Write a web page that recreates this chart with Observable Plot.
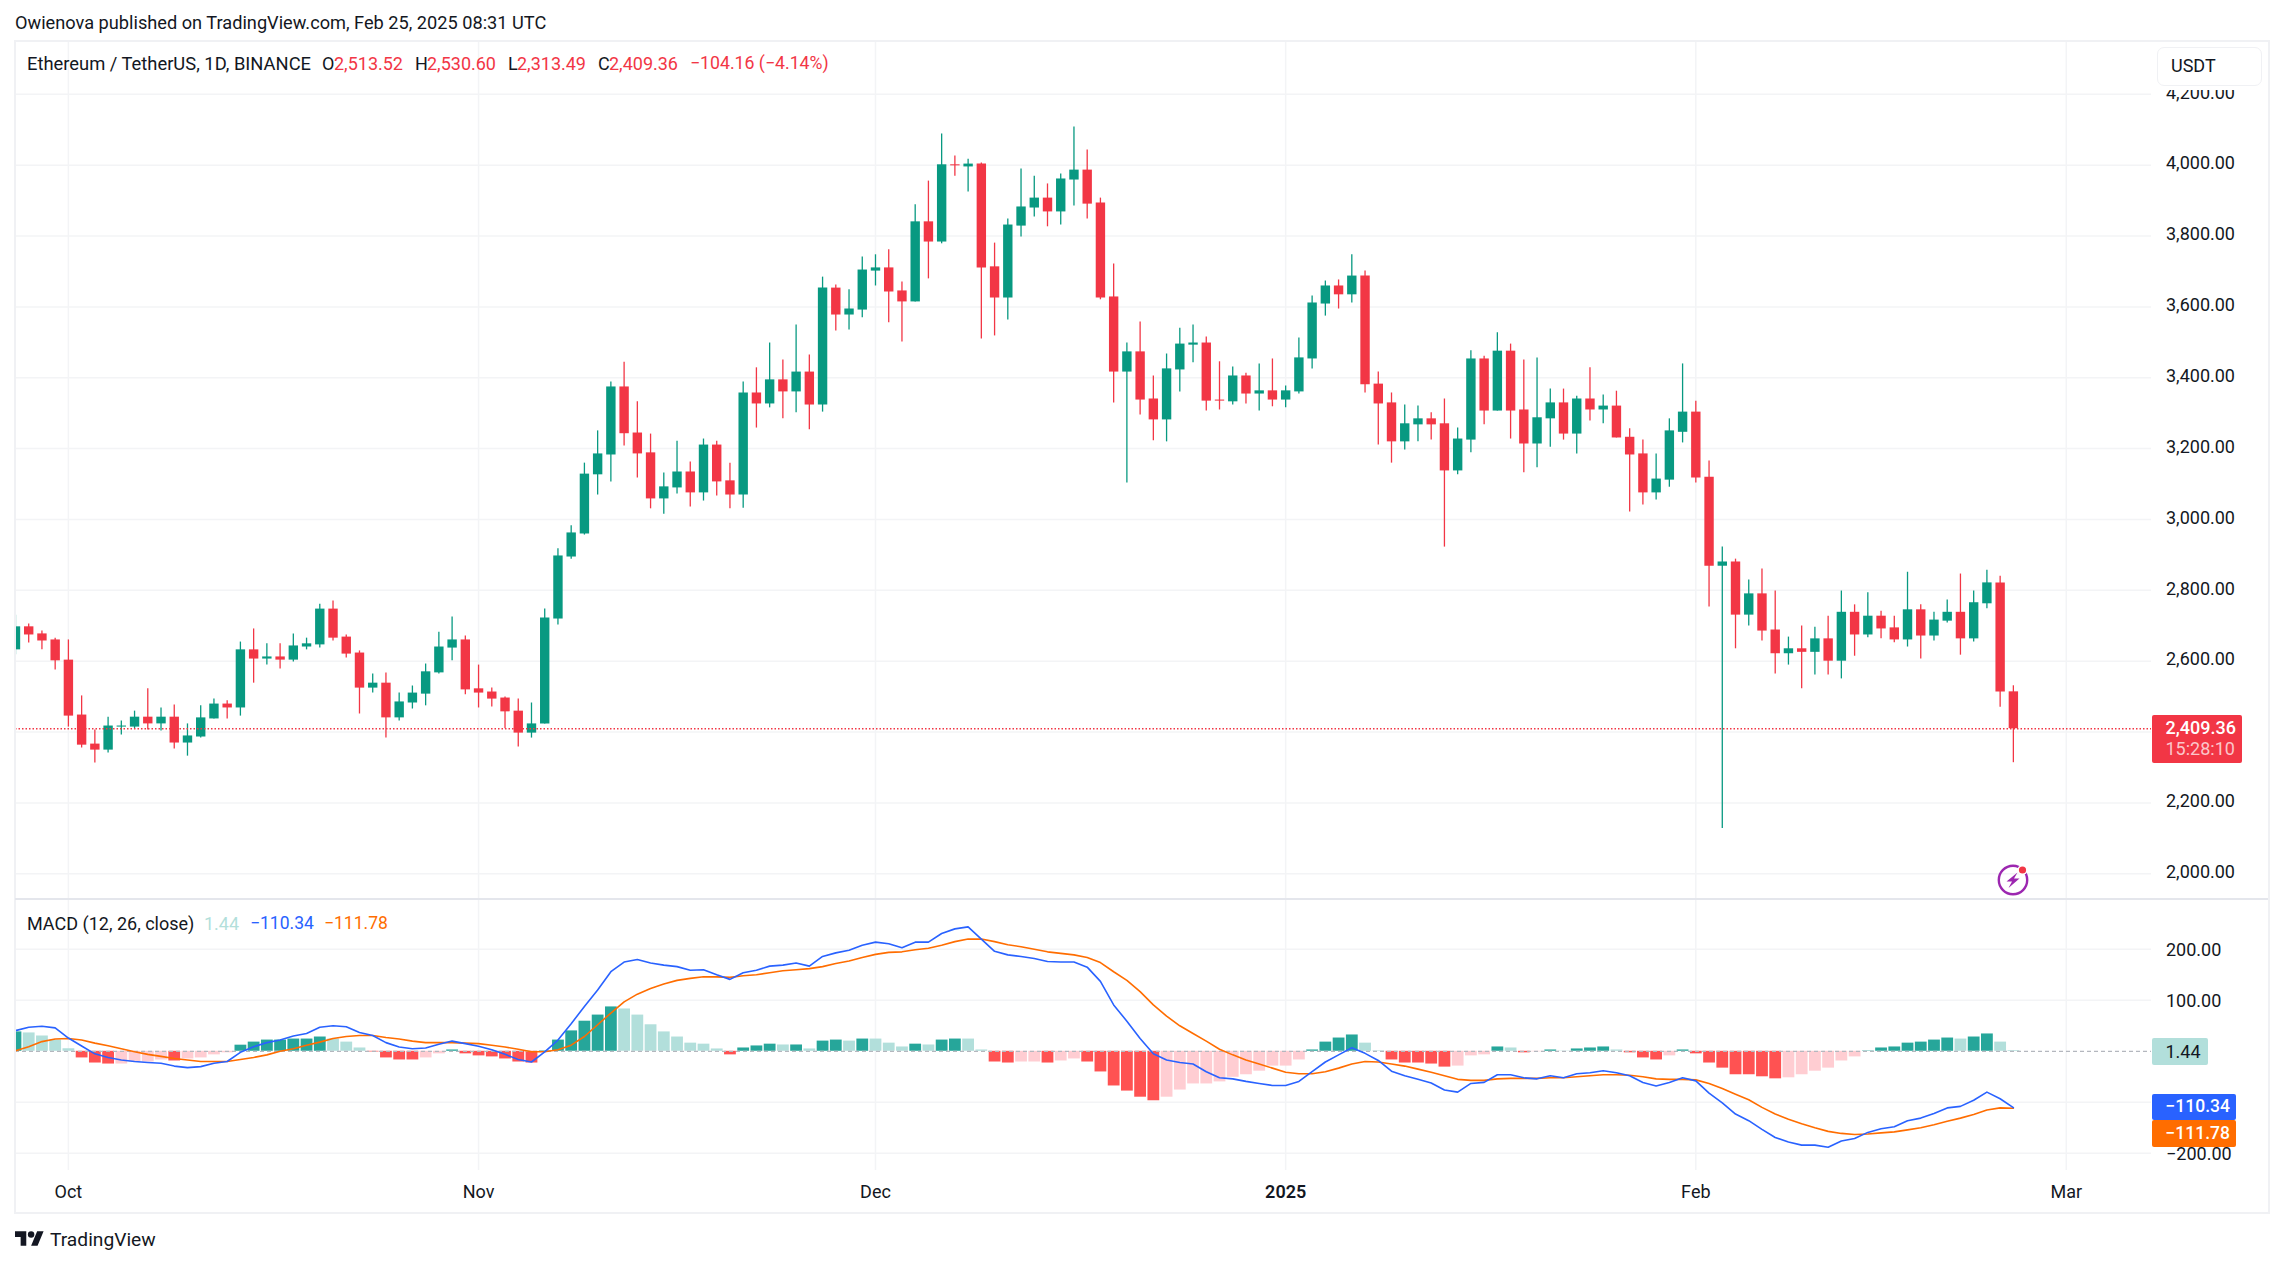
<!DOCTYPE html>
<html>
<head>
<meta charset="utf-8">
<script src="https://cdn.jsdelivr.net/npm/d3@7"></script>
<script src="https://cdn.jsdelivr.net/npm/@observablehq/plot@0.6"></script>
<style>
  html, body { margin: 0; padding: 0; background: #fff; width: 2283px; height: 1265px; overflow: hidden; }
  body { position: relative; font-family: Roboto, sans-serif; font-size: 18px; color: #131722; }
  svg { display: block; }
  .abs { position: absolute; white-space: nowrap; line-height: 1; }
  #header { height: 41px; }
  #frame { position: absolute; left: 14px; top: 40px; width: 2252px; height: 1170px; border: 2px solid #f0f1f4; pointer-events: none; }
  #divider { position: absolute; left: 15px; top: 898px; width: 2253px; height: 2px; background: #e4e6ec; }
  .tag { position: absolute; left: 2152px; color: #fff; }
  .tag span { position: absolute; left: 13.5px; white-space: nowrap; line-height: 1; }
</style>
</head>
<body>
<div id="header"></div>
<div id="price"></div>
<div id="macd"></div>
<script>
const startDate = "2024-09-27";

const opens = [2632,2697,2677,2660,2603,2448,2366,2349,2414,2414,
2442,2423,2442,2369,2386,2437,2479,2468,2632,2606,
2612,2603,2640,2646,2747,2668,2623,2524,2538,2440,
2482,2507,2567,2637,2660,2522,2513,2496,2459,2397,
2423,2719,2894,2959,3126,3182,3374,3244,3188,3058,
3089,3134,3075,3210,3109,3069,3357,3326,3394,3360,
3416,3323,3653,3577,3591,3701,3710,3645,3614,3840,
3783,4001,3995,4003,3713,3625,3828,3879,3907,3868,
3958,3986,3893,3628,3416,3473,3340,3281,3422,3492,
3498,3337,3332,3405,3354,3363,3337,3360,3453,3608,
3659,3634,3687,3382,3329,3219,3267,3284,3270,3137,
3224,3453,3306,3475,3309,3213,3284,3329,3241,3340,
3309,3320,3232,3185,3075,3111,3246,3303,3119,2868,
2880,2730,2790,2688,2621,2635,2625,2663,2600,2738,
2674,2727,2694,2660,2745,2671,2713,2738,2663,2762,
2821,2513.52];

const highs = [2730,2705,2685,2665,2660,2502,2406,2442,2431,2459,
2522,2468,2476,2423,2474,2493,2488,2654,2691,2649,
2649,2677,2665,2761,2770,2674,2629,2564,2567,2510,
2530,2592,2682,2725,2671,2589,2524,2499,2493,2482,
2747,2917,2982,3159,3250,3388,3444,3332,3241,3131,
3221,3162,3227,3221,3159,3388,3428,3498,3450,3549,
3464,3684,3662,3648,3741,3747,3761,3670,3888,3955,
4088,4026,4017,4006,3780,3848,3989,3969,3947,3975,
4108,4043,3907,3721,3498,3557,3405,3467,3540,3549,
3515,3445,3430,3413,3439,3453,3377,3512,3631,3673,
3676,3747,3701,3416,3357,3323,3320,3301,3340,3258,
3476,3461,3527,3495,3450,3456,3368,3368,3348,3428,
3351,3362,3256,3224,3185,3284,3439,3334,3165,2922,
2888,2829,2860,2798,2668,2699,2696,2727,2798,2759,
2793,2741,2727,2851,2759,2738,2773,2846,2798,2857,
2840,2530.60];

const lows = [2618,2651,2632,2575,2414,2355,2313,2341,2392,2409,
2406,2403,2352,2332,2383,2437,2437,2445,2538,2589,
2578,2598,2632,2637,2657,2609,2451,2510,2383,2431,
2465,2474,2564,2601,2505,2468,2471,2409,2358,2383,
2423,2702,2888,2956,3069,3106,3207,3117,3030,3015,
3072,3035,3052,3066,3030,3032,3258,3315,3284,3301,
3253,3303,3532,3535,3569,3659,3555,3501,3614,3679,
3778,3969,3924,3509,3518,3563,3797,3854,3826,3831,
3885,3848,3620,3329,3103,3295,3222,3219,3360,3442,
3306,3309,3323,3326,3306,3318,3315,3354,3425,3574,
3594,3611,3357,3210,3159,3196,3219,3224,2922,3126,
3188,3267,3306,3227,3132,3146,3204,3224,3185,3278,
3270,3230,3021,3041,3055,3091,3216,3103,2753,2128,
2635,2699,2657,2564,2589,2522,2561,2561,2550,2614,
2666,2663,2652,2640,2606,2657,2708,2617,2654,2748,
2470,2313.49];

const closes = [2697,2674,2657,2601,2445,2363,2349,2417,2417,2442,
2423,2442,2369,2389,2440,2479,2468,2632,2606,2612,
2603,2643,2649,2747,2665,2620,2524,2538,2440,2485,
2510,2570,2640,2660,2519,2510,2493,2457,2397,2423,
2722,2897,2962,3128,3185,3374,3242,3185,3058,3092,
3134,3075,3210,3106,3069,3357,3326,3394,3360,3416,
3323,3653,3577,3594,3704,3710,3642,3614,3840,3783,
4001,3998,4003,3710,3625,3831,3882,3907,3868,3961,
3986,3890,3625,3416,3473,3337,3281,3425,3495,3498,
3334,3334,3405,3354,3363,3337,3363,3456,3611,3659,
3634,3687,3380,3326,3219,3270,3284,3267,3137,3227,
3453,3306,3475,3306,3213,3287,3329,3241,3340,3309,
3320,3230,3182,3075,3114,3250,3303,3117,2868,2880,
2730,2790,2685,2621,2635,2625,2663,2600,2738,2674,
2727,2691,2660,2745,2671,2716,2738,2663,2765,2821,
2513,2409.36];

const histogram = [38,36,30,22,5,-13,-23,-25,-25,-21,
-21,-17,-19,-15,-13,-7,-3,12,18,22,
22,24,24,28,24,18,6.5,-1.3,-13,-17,
-17,-13,-5,2.6,-5,-9,-11,-15,-21,-23,
1,22,40,59,71,87,83,71,52,38,
28,16,14,4.6,-7,6.5,10.5,14,12.4,12.4,
4.6,20,22,20,24,24,16,8.5,14,12.4,
22,24,24,2.6,-21,-23,-21,-21,-23,-19,
-15,-21,-40.5,-68,-78,-90,-97,-90,-76,-64,
-64,-60,-51,-46,-39,-29,-29,-17,2.6,18,
26,32,16,1,-17,-23,-23,-25,-31,-29,
-9,-7,8.5,6.5,-3,-1,2.6,0.5,4.6,6.5,
8.5,2.6,-3,-13,-17,-9,2.6,-5,-23,-33,
-46,-46,-50,-54,-52,-46,-39,-33,-19,-11,
0.7,6.5,8.5,16,18,22,26,24,28,34,
18,1.44];

const histTone = ("G L L L L R R R P P "+"P P R P P P P G G G "+
"G G G G L L L R R R "+"R P P G R R R R R R "+
"G G G G G G L L L L "+"L L L L R G G G L G "+
"L G G L G L L L G L "+"G G L L R R P P R P "+
"P R R R R R R P P P "+"P P P P P P P P G G "+
"G G L L R R R R R P "+"P P G L R P G L G G "+
"G L R R R P G R R R "+"R R R R P P P P P P "+
"G G G G G G G L G G "+"L L").split(" ");

const macdLine = [40.5,47,49,46,26,10.5,-5,-12,-17,-20,
-22,-23.5,-29,-32,-30,-23.5,-20,-2,9,17,
22,30,35,47,50,48,37,31,17,8.5,
5,6.5,14,20,15,10,3,-6,-16,-21,
-1,22,54,88,120,156,175,180,173,169,
166,159,160,150,141,154,159,167,169,173,
167,186,193,198,208,214,211,203,214,214,
231,240,244,220,196,189,186,182,176,175,
175,165,137,91,59,25,-5,-17,-22,-25,
-40,-52,-54,-59,-63,-67,-67,-59,-40,-21,
-7,7,-4,-18,-39,-48,-55,-62,-76,-80,
-63,-61,-46,-46,-52,-54,-48,-52,-44,-42,
-38,-42,-48,-61,-68,-61,-52,-58,-82,-101,
-123,-136,-153,-169,-178,-184,-184,-188,-176,-171,
-159,-152,-148,-136,-131,-122,-111,-108,-96,-80,
-93,-110.34];

const signalLine = [1,9,19,24,25,22,16,11,5,-1,
-6,-10,-14,-17,-20,-20,-20,-16,-12,-7,
0,5,12,18,25,29,31,31,27,24,
20,17,17,17,16,15,12,8.5,4,-1,
-1,3,12,29,52,75,97,112,123,132,
139,143,146,146,145,148,150,154,158,160,
162,166,172,177,184,190,194,195,199,202,
208,215,220,220,215,209,205,200,195,192,
189,184,174,156,139,117,91,69,50,35,
20,4,-7,-17,-25,-33,-41,-44,-44,-40,
-33,-25,-20,-21,-25,-29,-35,-41,-48,-55,
-57,-57,-54,-53,-53,-53,-52,-52,-50,-48,
-46,-46,-47,-50,-54,-55,-55,-56,-63,-73,
-84,-95,-110,-123,-133,-142,-150,-157,-161,-163,
-162,-160,-158,-154,-150,-144,-137,-131,-124,-115,
-111,-111.78];

const priceTicks = [4200,4000,3800,3600,3400,3200,3000,2800,2600,2400,2200,2000];
const macdTicks = [200,100,-200];
const macdGrid = [200,100,-100,-200];
const monthTicks = ["2024-10-01","2024-11-01","2024-12-01","2025-02-01","2025-03-01"];
const monthLabels = ["Oct","Nov","Dec","Feb","Mar"];
const yearTicks = ["2025-01-01"];
const yearLabels = ["2025"];
const lastClose = 2409.36;

const headline = "Owienova published on TradingView.com, Feb 25, 2025 08:31 UTC";
const symbolName = "Ethereum / TetherUS, 1D, BINANCE";

const GREEN = "#089981", RED = "#f23645", GRID = "#f3f4f6", INK = "#131722";
const toneColor = {G:"#26a69a", L:"#b2dfdb", R:"#ff5252", P:"#ffcdd2"};

const day0 = new Date(startDate + "T00:00:00Z");
const rows = opens.map((open, i) => ({
  date: d3.utcDay.offset(day0, i),
  open, high: highs[i], low: lows[i], close: closes[i],
  hist: histogram[i], tone: histTone[i], macd: macdLine[i], signal: signalLine[i]
}));
const toDate = s => new Date(s + "T00:00:00Z");
const oct1 = toDate("2024-10-01").getTime();
const DAY = 864e5;
const xDomain = [new Date(oct1 - 3.998 * DAY), new Date(oct1 + 157.44 * DAY)];
const allVTicks = monthTicks.concat(yearTicks).map(toDate);
const font = "Roboto, sans-serif";

const pricePlot = Plot.plot({
  width: 2283, height: 858,
  marginLeft: 15, marginRight: 132, marginTop: 0, marginBottom: 0,
  style: {background: "transparent", fontFamily: font, fontSize: "18px", color: INK, overflow: "visible"},
  x: {type: "utc", domain: xDomain, axis: null},
  y: {domain: [1927.4, 4349], axis: null},
  marks: [
    Plot.ruleX(allVTicks, {stroke: GRID, strokeWidth: 1.5}),
    Plot.ruleY(priceTicks, {stroke: GRID, strokeWidth: 1.5}),
    Plot.axisY(priceTicks, {anchor: "right", tickSize: 0, tickPadding: 14.5, label: null, dy: -1.5,
      tickFormat: d3.format(",.2f"), fontSize: 18, fill: INK}),
    Plot.ruleX(rows, {x: "date", y1: "low", y2: "high", strokeWidth: 1.3,
      stroke: d => d.close >= d.open ? GREEN : RED, clip: true}),
    Plot.ruleX(rows, {x: "date", y1: "open", y2: "close", strokeWidth: 9.4,
      stroke: d => d.close >= d.open ? GREEN : RED, clip: true}),
    Plot.ruleY([lastClose], {stroke: RED, strokeWidth: 1.3, strokeDasharray: "1.5,2"})
  ]
});
document.getElementById("price").append(pricePlot);

const macdPlot = Plot.plot({
  width: 2283, height: 366,
  marginLeft: 15, marginRight: 132, marginTop: 0, marginBottom: 95,
  style: {background: "transparent", fontFamily: font, fontSize: "18px", color: INK, overflow: "visible"},
  x: {type: "utc", domain: xDomain, axis: null},
  y: {domain: [-233.7, 297.6], axis: null},
  marks: [
    Plot.ruleX(allVTicks, {stroke: GRID, strokeWidth: 1.5}),
    Plot.ruleY(macdGrid, {stroke: GRID, strokeWidth: 1.5}),
    Plot.axisY(macdTicks, {anchor: "right", tickSize: 0, tickPadding: 14.5, label: null, dy: 0.7,
      tickFormat: d3.format(",.2f"), fontSize: 18, fill: INK}),
    Plot.axisX(monthTicks.map(toDate), {anchor: "bottom", tickSize: 0, tickPadding: 15, label: null,
      tickFormat: (d, i) => monthLabels[i], fontSize: 18, fill: INK}),
    Plot.axisX(yearTicks.map(toDate), {anchor: "bottom", tickSize: 0, tickPadding: 15, label: null,
      tickFormat: (d, i) => yearLabels[i], fontSize: 18, fontWeight: 600, fill: INK}),
    Plot.ruleX(rows, {x: "date", y1: 0, y2: "hist", strokeWidth: 11.8,
      stroke: d => toneColor[d.tone], clip: true}),
    Plot.ruleY([0], {stroke: "#b4b7be", strokeWidth: 1.3, strokeDasharray: "4,3"}),
    Plot.line(rows, {x: "date", y: "signal", stroke: "#ff6d00", strokeWidth: 1.6, clip: true}),
    Plot.line(rows, {x: "date", y: "macd", stroke: "#2962ff", strokeWidth: 1.6, clip: true})
  ]
});
document.getElementById("macd").append(macdPlot);

/* Overlay text, boxes and icons */
function put(text, left, midY, color, extra) {
  const el = document.createElement("div");
  el.className = "abs";
  el.textContent = text;
  el.style.left = left + "px";
  el.style.top = (midY - 9) + "px";
  el.style.color = color;
  if (extra) Object.assign(el.style, extra);
  document.body.append(el);
  return el;
}
const frame = document.createElement("div"); frame.id = "frame"; document.body.append(frame);
const divider = document.createElement("div"); divider.id = "divider"; document.body.append(divider);

put(headline, 15, 23, INK, {fontSize: "18.2px"});
put(symbolName, 27, 64, INK, {fontSize: "18.35px"});
[["O",322,"2,513.52",334],["H",415,"2,530.60",427],["L",508,"2,313.49",517],["C",598,"2,409.36",609]]
  .forEach(([k, kx, v, vx]) => { put(k, kx, 64, INK); put(v, vx, 64, RED); });
put("\u2212104.16 (\u22124.14%)", 690, 64, RED, {fontSize: "17.7px"});

put("MACD (12, 26, close)", 27, 923.5, INK);
put("1.44", 204, 923.5, "#b2dfdb");
put("\u2212110.34", 250, 923.5, "#2962ff", {fontSize: "17.5px"});
put("\u2212111.78", 324, 923.5, "#ff6d00", {fontSize: "17.5px"});

const usdtMask = document.createElement("div");
Object.assign(usdtMask.style, {position:"absolute", left:"2157px", top:"47px", width:"104px", height:"43px", background:"#fff"});
document.body.append(usdtMask);
const usdt = document.createElement("div");
Object.assign(usdt.style, {position:"absolute", left:"2157px", top:"47px", width:"103px", height:"37px",
  background:"#fff", border:"1.5px solid #f0f1f4", borderRadius:"7px"});
document.body.append(usdt);
put("USDT", 2171, 66, INK);

function tag(top, height, width, bg, lines) {
  const el = document.createElement("div");
  el.className = "tag";
  Object.assign(el.style, {top: top + "px", height: height + "px", width: width + "px", background: bg, borderRadius: "2px"});
  lines.forEach(([t, y, c, w, fs]) => {
    const s = document.createElement("span");
    s.textContent = t;
    Object.assign(s.style, {top: (y - top - 9) + "px", color: c, fontWeight: w || 400, fontSize: fs || "18px"});
    el.append(s);
  });
  document.body.append(el);
}
tag(715, 48, 90, RED, [["2,409.36", 728, "#fff", 500], ["15:28:10", 749, "rgba(255,255,255,0.72)"]]);
tag(1038, 27, 56, "#b2dfdb", [["1.44", 1052, INK]]);
tag(1094, 26, 84, "#2962ff", [["\u2212110.34", 1107, "#fff", 500, "17.5px"]]);
tag(1120, 27, 84, "#ff6d00", [["\u2212111.78", 1134, "#fff", 500, "17.5px"]]);

const icons = document.createElement("div");
icons.innerHTML = `
<svg style="position:absolute;left:1994.5px;top:861.5px" width="36" height="36" viewBox="0 0 36 36">
  <circle cx="18" cy="18" r="14.2" fill="none" stroke="#9c27b0" stroke-width="2.4"/>
  <path d="M22.5 10.5 L11.5 19.5 L17 19.5 L13.5 26 L24.5 16.5 L19 16.5 Z" fill="#9c27b0"/>
  <circle cx="27.5" cy="8" r="5" fill="#fff"/><circle cx="27.5" cy="8" r="3.6" fill="#f23645"/>
</svg>
<svg style="position:absolute;left:15px;top:1231px" width="29" height="15" viewBox="0 4 36 18">
  <path d="M14 22H7V11H0V4h14v18zM28 22h-8l7.5-18h8L28 22z" fill="#131722"/><circle cx="20" cy="8" r="4" fill="#131722"/>
</svg>`;
document.body.append(icons);
put("TradingView", 50, 1240, INK, {fontSize: "19.2px", top: "1230px"});
</script>
</body>
</html>
